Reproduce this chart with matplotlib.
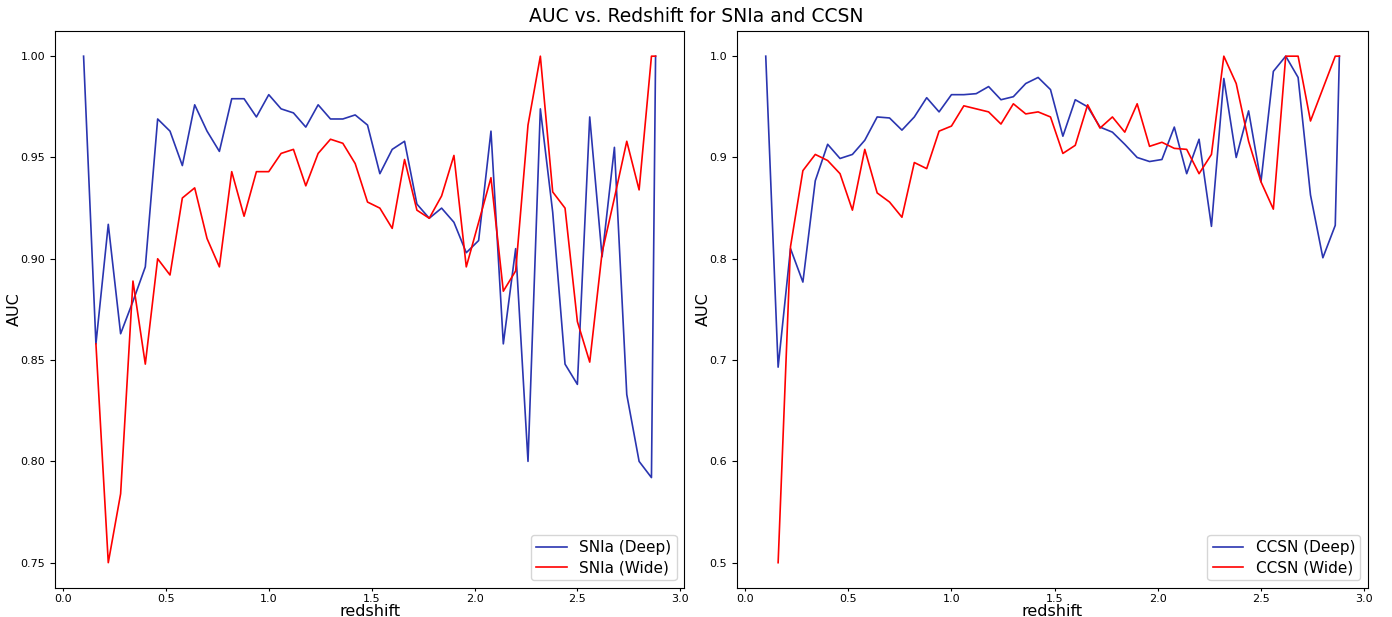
import numpy as np
import matplotlib
matplotlib.use("Agg")
import matplotlib.pyplot as plt

# redshift bins
redshift = [0.10, 0.16, 0.22, 0.28, 0.34, 0.40, 0.46, 0.52, 0.58, 0.64,
            0.70, 0.76, 0.82, 0.88, 0.94, 1.00, 1.06, 1.12, 1.18, 1.24,
            1.30, 1.36, 1.42, 1.48, 1.54, 1.60, 1.66, 1.72, 1.78, 1.84,
            1.90, 1.96, 2.02, 2.08, 2.14, 2.20, 2.26, 2.32, 2.38, 2.44,
            2.50, 2.56, 2.62, 2.68, 2.74, 2.80, 2.86, 2.88]

snia_deep = [1.000, 0.858, 0.917, 0.863, 0.879, 0.896, 0.969, 0.963, 0.946, 0.976,
             0.963, 0.953, 0.979, 0.979, 0.970, 0.981, 0.974, 0.972, 0.965, 0.976,
             0.969, 0.969, 0.971, 0.966, 0.942, 0.954, 0.958, 0.927, 0.920, 0.925,
             0.918, 0.903, 0.909, 0.963, 0.858, 0.905, 0.800, 0.974, 0.923, 0.848,
             0.838, 0.970, 0.901, 0.955, 0.833, 0.800, 0.792, 1.000]
snia_wide = [np.nan, 0.858, 0.750, 0.784, 0.889, 0.848, 0.900, 0.892, 0.930, 0.935,
             0.910, 0.896, 0.943, 0.921, 0.943, 0.943, 0.952, 0.954, 0.936, 0.952,
             0.959, 0.957, 0.947, 0.928, 0.925, 0.915, 0.949, 0.924, 0.920, 0.931,
             0.951, 0.896, 0.918, 0.940, 0.884, 0.894, 0.966, 1.000, 0.933, 0.925,
             0.869, 0.849, 0.903, 0.930, 0.958, 0.934, 1.000, 1.000]

ccsn_deep = [1.000, 0.693, 0.810, 0.777, 0.877, 0.913, 0.899, 0.903, 0.917, 0.940,
             0.939, 0.927, 0.940, 0.959, 0.945, 0.962, 0.962, 0.963, 0.970, 0.957,
             0.960, 0.973, 0.979, 0.967, 0.921, 0.957, 0.950, 0.930, 0.925, 0.913,
             0.900, 0.896, 0.898, 0.930, 0.884, 0.918, 0.832, 0.978, 0.900, 0.946,
             0.876, 0.985, 1.000, 0.979, 0.863, 0.801, 0.833, 1.000]
ccsn_wide = [np.nan, 0.500, 0.812, 0.887, 0.903, 0.897, 0.884, 0.848, 0.908, 0.865,
             0.856, 0.841, 0.895, 0.889, 0.926, 0.931, 0.951, 0.948, 0.945, 0.933,
             0.953, 0.943, 0.945, 0.940, 0.904, 0.912, 0.952, 0.929, 0.940, 0.925,
             0.953, 0.911, 0.915, 0.909, 0.908, 0.884, 0.903, 1.000, 0.973, 0.916,
             0.876, 0.849, 1.000, 1.000, 0.936, 0.968, 1.000, 1.000]

blue = "#2a35b0"
red = "red"

fig = plt.figure(figsize=(13.92, 6.17), dpi=100)
ax1 = fig.add_axes([0.0395, 0.047, 0.452, 0.903])
ax2 = fig.add_axes([0.5295, 0.047, 0.4533, 0.903])

ax1.plot(redshift, snia_deep, color=blue, lw=1.2, label="SNIa (Deep)")
ax1.plot(redshift, snia_wide, color=red, lw=1.2, label="SNIa (Wide)")
ax2.plot(redshift, ccsn_deep, color=blue, lw=1.2, label="CCSN (Deep)")
ax2.plot(redshift, ccsn_wide, color=red, lw=1.2, label="CCSN (Wide)")

for ax in (ax1, ax2):
    ax.set_xlabel("redshift", fontsize=11.5, labelpad=0)
    ax.set_ylabel("AUC", fontsize=11.5, labelpad=-1)
    ax.tick_params(labelsize=8)
    ax.tick_params(axis="x", length=2.5, pad=2)
    ax.legend(loc="lower right", fontsize=11, borderpad=0.35,
              labelspacing=0.3)

fig.suptitle("AUC vs. Redshift for SNIa and CCSN", fontsize=13.5, y=0.988)

fig.savefig("out.png", dpi=100)
